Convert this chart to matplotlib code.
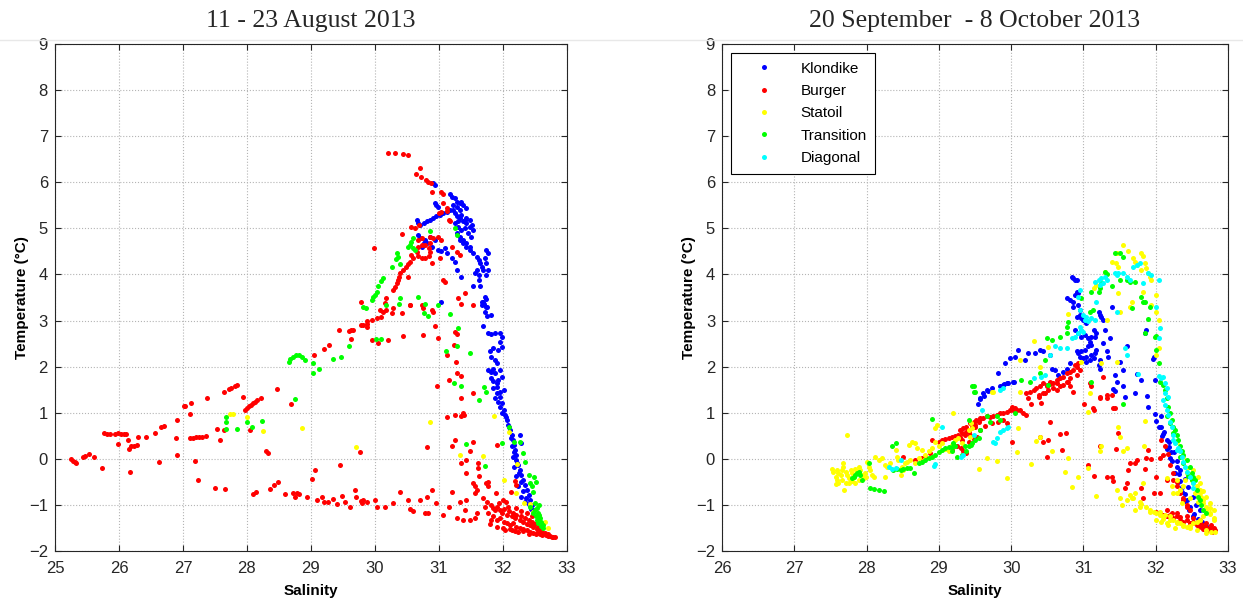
import numpy as np
import matplotlib
matplotlib.use('Agg')
import matplotlib.pyplot as plt
from matplotlib.lines import Line2D

# salinity / temperature pairs
titles = ['11 - 23 August 2013', '20 September  - 8 October 2013']
stations = ['Klondike', 'Burger', 'Statoil', 'Transition', 'Diagonal']

aug_klondike = [
    (30.91, 5.98), (30.94, 5.94), (31.17, 5.75), (31.20, 5.69), (31.25, 5.65), (31.28, 5.58), (31.33, 5.54),
    (31.35, 5.58), (31.38, 5.51), (31.42, 5.44), (31.33, 5.40), (31.28, 5.47), (31.22, 5.51), (30.94, 5.54),
    (30.96, 5.51), (30.99, 5.47), (30.65, 5.18), (30.68, 5.11), (30.70, 5.08), (30.76, 5.11), (30.81, 5.15),
    (30.86, 5.18), (30.91, 5.22), (30.96, 5.26), (31.02, 5.29), (31.07, 5.33), (31.12, 5.36), (31.17, 5.40),
    (31.22, 5.40), (31.25, 5.33), (31.28, 5.26), (31.33, 5.22), (31.38, 5.15), (31.43, 5.11), (31.48, 5.04),
    (31.54, 4.97), (31.25, 5.11), (31.30, 5.04), (31.35, 4.97), (31.40, 5.18), (31.45, 4.89), (31.50, 4.82),
    (31.28, 4.89), (31.33, 4.82), (31.38, 4.75), (31.43, 4.68), (31.48, 4.60), (31.35, 5.29), (31.42, 5.22),
    (31.48, 5.18), (31.52, 5.08), (31.30, 5.15), (31.40, 5.00), (31.33, 4.75), (31.38, 4.68), (31.43, 4.60),
    (31.48, 4.53), (31.54, 4.46), (31.59, 4.39), (31.62, 4.32), (31.64, 4.24), (31.67, 4.17), (31.69, 4.10),
    (31.59, 4.10), (31.56, 4.03), (31.62, 3.99), (31.74, 4.53), (31.77, 4.46), (31.72, 4.35), (31.74, 4.24),
    (31.77, 4.10), (31.74, 3.99), (30.81, 4.68), (30.89, 4.60), (30.94, 4.75), (30.99, 4.53), (31.04, 4.50),
    (31.09, 4.57), (31.12, 4.46), (31.20, 4.35), (31.25, 4.28), (31.28, 4.10), (31.35, 3.95), (31.54, 3.75),
    (31.62, 3.88), (31.64, 3.74), (31.72, 3.52), (31.74, 3.46), (31.69, 3.41), (31.67, 3.34), (31.75, 3.30),
    (31.04, 3.41), (30.68, 4.86), (30.70, 4.79), (30.76, 4.68), (30.73, 4.60), (30.78, 4.75), (30.86, 4.82),
    (31.67, 3.41), (31.70, 3.36), (31.74, 3.30), (31.72, 3.19), (31.75, 3.09), (31.82, 3.12), (31.69, 2.88),
    (31.77, 2.72), (31.82, 2.71), (31.88, 2.72), (31.95, 2.72), (31.98, 2.65), (31.95, 2.54), (31.98, 2.43),
    (31.93, 2.36), (31.85, 2.40), (31.80, 2.33), (31.82, 2.22), (31.88, 2.15), (31.90, 2.07), (31.77, 1.93),
    (31.82, 1.89), (31.88, 1.86), (31.95, 1.93), (31.98, 1.78), (31.82, 1.75), (31.85, 1.68), (31.90, 1.64),
    (31.85, 1.53), (32.01, 1.50), (31.90, 1.42), (31.95, 1.35), (31.88, 1.31), (31.93, 1.24), (31.98, 1.21),
    (31.95, 1.13), (32.01, 1.06), (32.03, 0.95), (32.06, 0.84), (32.08, 0.74), (32.11, 0.63), (32.14, 0.52),
    (32.16, 0.41), (32.17, 0.30), (32.19, 0.19), (32.20, 0.08), (32.21, -0.02), (32.24, -0.13), (32.27, -0.24),
    (32.29, -0.35), (32.32, -0.46), (32.34, -0.57), (32.37, -0.67), (32.40, -0.78), (32.42, -0.89),
    (32.45, -1.00), (32.47, -1.11), (32.26, 0.52), (32.29, 0.34), (32.14, 0.27), (32.16, 0.05), (32.17, -0.17),
    (32.21, -0.38), (32.24, -0.60), (32.29, -0.82), (32.34, -0.93), (31.98, 1.00), (32.05, 0.90), (32.10, 0.70),
    (32.12, 0.45), (32.18, 0.15), (32.22, -0.10), (32.25, -0.30), (32.28, -0.50), (32.31, -0.70),
    (32.36, -0.85), (32.40, -0.98), (32.44, -1.08), (31.90, 1.55), (31.96, 1.45), (31.85, 1.95), (31.92, 1.70),
]

aug_burger = [
    (25.25, 0.00), (25.28, -0.04), (25.31, -0.07), (25.33, -0.09), (25.44, 0.04), (25.47, 0.07), (25.53, 0.11),
    (25.61, 0.04), (25.74, -0.20), (25.76, 0.56), (25.81, 0.54), (25.86, 0.54), (25.94, 0.53), (25.99, 0.56),
    (26.03, 0.54), (26.08, 0.54), (26.11, 0.53), (25.98, 0.33), (26.14, 0.40), (26.16, 0.22), (26.19, 0.27),
    (26.24, 0.28), (26.28, 0.31), (26.30, 0.47), (26.18, -0.28), (26.43, 0.47), (26.56, 0.57), (26.66, 0.69),
    (26.70, 0.71), (26.63, -0.06), (26.91, 0.85), (26.89, 0.45), (26.90, 0.09), (27.01, 1.14), (27.04, 1.15),
    (27.11, 0.98), (27.13, 1.21), (27.11, 0.46), (27.15, 0.46), (27.20, 0.47), (27.25, 0.48), (27.30, 0.48),
    (27.36, 0.49), (27.19, -0.05), (27.24, -0.45), (27.38, 1.32), (27.50, -0.63), (27.66, -0.65), (27.53, 0.65),
    (27.58, 0.40), (27.64, 1.45), (27.72, 1.52), (27.75, 1.54), (27.81, 1.57), (27.84, 1.60), (27.64, 0.63),
    (27.94, 1.34), (27.97, 1.07), (28.00, 1.11), (28.03, 1.14), (28.06, 1.17), (28.09, 1.21), (28.13, 1.23),
    (28.05, 0.63), (28.16, 1.28), (28.22, 1.33), (28.09, -0.76), (28.14, -0.71), (28.30, 0.18), (28.33, 0.13),
    (28.36, -0.65), (28.43, -0.56), (28.49, -0.51), (28.47, 1.52), (28.69, 1.20), (28.59, -0.76), (28.72, -0.75),
    (28.75, -0.83), (28.78, -0.75), (28.82, -0.76), (28.94, -0.83), (29.01, -0.43), (29.06, -0.24), (29.05, 2.26),
    (29.09, -0.89), (29.18, -0.83), (29.20, -0.94), (29.26, -0.94), (29.34, -0.87), (29.41, -0.99), (29.49, -0.80),
    (29.53, -0.94), (29.61, -1.05), (29.69, -0.67), (29.71, -0.83), (29.78, -0.91), (29.80, -0.96), (29.87, -0.94),
    (29.45, -0.13), (29.77, 0.14), (29.20, 2.39), (29.28, 2.48), (29.44, 2.79), (29.59, 2.78), (29.63, 2.79),
    (29.66, 2.80), (29.63, 2.59), (29.78, 2.90), (29.87, 2.93), (29.87, 2.86),
    (29.79, 3.41), (29.82, 2.90), (30.08, 3.23), (30.13, 3.19), (30.18, 3.23), (30.26, 3.16), (30.29, 3.27),
    (29.87, 2.98), (29.95, 3.01), (30.03, 3.05), (30.10, 3.08), (29.96, 2.58), (30.05, 2.51), (30.21, 2.58),
    (30.44, 2.67), (30.42, 3.17), (30.55, 3.34), (30.75, 3.27), (30.89, 3.23), (30.91, 3.19), (30.75, 2.69),
    (30.94, 2.88), (30.98, 2.62), (31.25, 2.76), (31.28, 2.71), (31.24, 2.46), (31.13, 2.25), (31.27, 2.11),
    (31.15, 1.70), (30.97, 1.58), (31.28, 1.86), (31.34, 1.80), (31.54, 1.42), (31.35, 1.31), (31.37, 0.99),
    (31.39, 0.95), (31.35, 0.92), (31.25, 0.95), (31.12, 0.90), (31.25, 0.41), (31.21, 0.27), (31.54, 0.37),
    (30.82, 0.25), (31.35, -0.08), (31.43, -0.02), (31.49, 0.16), (31.61, -0.09), (31.61, -0.20), (31.43, -0.31),
    (31.63, -0.37), (31.77, -0.50), (31.91, 0.29), (31.54, -0.53), (31.56, -0.60), (31.60, -0.68), (31.56, -0.75),
    (31.74, -0.53), (31.77, -0.60), (31.89, -0.75), (32.00, -0.89), (32.05, -0.93), (32.19, -0.49), (32.21, -0.57),
    (32.13, -0.71), (29.82, -0.89), (30.00, -0.89), (30.03, -1.04), (30.16, -1.04), (30.29, -0.96), (30.39, -0.71),
    (30.52, -0.89), (30.55, -1.09), (30.60, -1.14), (30.70, -0.89), (30.78, -1.18), (30.83, -1.18), (30.81, -0.82),
    (30.89, -0.67), (30.96, -0.96), (31.07, -1.22), (31.15, -1.05), (31.20, -0.73), (31.28, -1.29), (31.33, -0.93),
    (31.38, -1.33), (31.41, -1.12), (31.43, -0.89), (31.48, -1.33), (31.56, -1.29), (31.59, -1.18),
    (30.21, 6.64), (30.31, 6.63), (30.44, 6.61), (30.52, 6.59), (30.70, 6.30), (30.64, 6.19), (30.72, 6.12),
    (30.80, 6.05), (30.83, 6.01), (30.87, 5.98), (30.89, 5.80), (31.04, 5.80), (31.07, 5.75), (31.07, 5.54),
    (31.00, 5.33), (31.04, 5.36), (31.12, 5.45), (31.13, 5.38), (31.15, 5.18), (31.17, 5.15), (30.57, 5.02),
    (30.63, 5.00), (30.69, 5.07), (30.43, 4.87), (29.98, 4.57), (30.68, 4.75), (30.73, 4.79), (30.86, 4.82),
    (30.91, 4.79), (30.99, 4.82), (30.66, 4.49), (30.68, 4.59), (30.73, 4.63), (30.79, 4.63), (30.84, 4.58),
    (30.86, 4.49), (30.84, 4.40), (30.79, 4.35), (30.73, 4.35), (30.68, 4.40), (30.57, 4.42), (30.60, 4.35),
    (30.55, 4.28), (30.52, 4.23), (30.49, 4.17), (30.44, 4.10), (30.39, 4.03), (30.38, 3.95), (30.36, 3.88),
    (30.34, 3.81), (30.31, 3.73), (30.29, 3.66), (30.86, 4.68), (31.04, 4.75), (31.20, 4.60), (31.28, 4.49),
    (31.33, 4.42), (31.02, 4.35), (31.07, 3.88), (31.10, 3.84), (30.89, 4.24), (30.52, 3.95), (30.18, 3.48),
    (30.16, 3.38), (30.55, 3.34), (30.73, 3.34), (31.41, 3.59), (31.30, 3.48), (31.35, 3.36), (31.54, 3.34),
    (31.69, -0.86), (31.75, -0.93), (31.81, -1.00), (31.84, -1.07), (31.88, -1.11), (31.91, -1.05), (31.95, -1.12),
    (31.98, -1.18), (32.02, -1.09), (32.06, -1.22), (32.10, -1.14), (32.14, -1.25), (32.16, -1.18), (32.19, -1.29),
    (32.21, -1.22), (32.26, -1.33), (32.29, -1.25), (32.32, -1.36), (32.34, -1.29), (32.37, -1.41), (32.40, -1.33),
    (32.42, -1.43), (32.45, -1.38), (32.47, -1.47), (32.50, -1.41), (32.53, -1.53), (32.55, -1.47), (32.58, -1.58),
    (32.60, -1.54), (32.63, -1.61), (32.66, -1.60), (32.68, -1.65), (32.71, -1.64), (32.73, -1.67), (32.76, -1.69),
    (32.79, -1.69), (32.82, -1.70), (31.85, -1.25), (31.90, -1.33), (31.95, -1.29), (32.01, -1.36), (32.06, -1.40),
    (32.11, -1.43), (32.16, -1.40), (32.21, -1.47), (32.27, -1.51), (32.32, -1.53), (32.37, -1.54), (32.42, -1.58),
    (32.47, -1.60), (32.53, -1.61), (32.58, -1.64), (31.77, -1.18), (31.82, -1.33), (31.72, -1.04), (31.94, -0.96),
    (32.08, -1.04), (32.21, -1.07), (32.29, -1.14), (32.37, -1.18), (32.45, -1.25), (32.03, -1.54), (32.14, -1.54),
    (32.24, -1.58), (31.80, -1.42), (31.91, -1.48), (32.00, -1.49), (32.11, -1.53), (32.19, -1.56), (32.31, -1.57),
    (32.40, -1.62), (32.51, -1.64), (32.61, -1.66), (32.70, -1.68),
]

aug_statoil = [
    (27.74, 0.98), (27.78, 0.98), (28.00, 0.91), (28.25, 0.60), (28.86, 0.67), (29.71, 0.25), (30.86, 0.80),
    (31.33, 0.09), (31.69, 0.07), (31.86, 0.93), (32.01, -0.45), (32.09, 0.58), (32.21, -0.75), (32.33, -0.96),
    (32.22, -0.11), (32.47, -1.16), (32.56, -1.23), (32.66, -1.38), (32.70, -1.49), (32.42, -0.97),
]

aug_transition = [
    (28.66, 2.10), (28.68, 2.17), (28.72, 2.22), (28.76, 2.26), (28.81, 2.25), (28.86, 2.22), (28.90, 2.15),
    (29.03, 1.86), (29.13, 1.94), (29.04, 2.09), (28.75, 1.29), (29.59, 2.44), (29.86, 3.28), (29.34, 2.17),
    (29.47, 2.21), (27.68, 0.91), (27.68, 0.81), (27.68, 0.65), (27.84, 0.64), (28.00, 0.80), (28.08, 0.69),
    (28.24, 0.82), (30.60, 4.79), (30.57, 4.71), (30.55, 4.64), (30.52, 4.60), (30.60, 4.57), (30.62, 4.53),
    (30.34, 4.46), (30.36, 4.39), (30.33, 4.33), (30.39, 4.23), (30.26, 4.17), (30.13, 3.92), (30.10, 3.85),
    (30.05, 3.74), (30.03, 3.63), (30.00, 3.56), (29.97, 3.52), (29.95, 3.45), (30.18, 3.34), (30.86, 4.95),
    (31.25, 5.00), (31.28, 4.86), (30.68, 3.52), (30.39, 3.48), (30.78, 3.35), (30.99, 3.34), (29.82, 3.30),
    (30.37, 3.37), (30.76, 3.16), (30.83, 3.10), (31.17, 3.14), (31.30, 2.83), (31.11, 2.33), (31.29, 2.45),
    (31.48, 2.29), (31.24, 1.64), (31.34, 1.58), (31.71, 1.55), (31.74, 1.44), (31.63, 1.28), (31.43, 0.32),
    (31.72, -0.15), (31.99, 0.34), (32.10, 0.68), (32.17, 0.37), (32.26, 0.37), (30.01, 2.59), (30.09, 2.61),
    (32.32, 0.12), (32.34, -0.06), (32.40, -0.35), (32.42, -0.53), (32.45, -0.60), (32.47, -0.71), (32.50, -0.96),
    (32.53, -1.07), (32.55, -1.18), (32.58, -1.29), (32.60, -1.36), (32.47, -1.18), (32.50, -1.11), (32.42, -1.04),
    (32.53, -1.33), (32.55, -1.40), (32.57, -1.22), (32.62, -1.43), (32.52, -1.25), (32.48, -0.40), (32.52, -0.50),
    (32.56, -1.00), (32.60, -1.45), (32.63, -1.50),
]

sep_klondike = [
    (30.84, 3.95), (30.86, 3.92), (30.88, 3.89), (30.91, 3.88), (30.77, 3.48), (30.81, 3.45), (30.86, 3.41),
    (30.91, 3.63), (30.93, 3.59), (30.88, 3.56), (30.86, 3.30), (30.93, 3.34), (30.91, 3.08), (30.95, 3.12),
    (30.97, 3.05), (31.00, 3.01), (31.02, 2.98), (31.04, 2.94), (30.95, 3.23), (30.88, 2.80), (30.93, 2.72),
    (30.97, 2.65), (31.02, 2.69), (31.07, 2.62), (31.11, 2.65), (31.16, 2.65), (31.18, 2.72), (31.14, 2.80),
    (31.09, 2.54), (31.11, 2.47), (31.07, 2.44), (31.02, 2.36), (30.97, 2.33), (30.93, 2.29), (30.95, 2.22),
    (31.00, 2.18), (31.04, 2.22), (31.11, 2.25), (31.16, 2.29), (31.18, 2.36), (31.14, 2.18), (31.09, 2.15),
    (31.04, 2.11), (30.91, 2.33), (31.21, 3.19), (31.23, 3.12), (31.25, 3.08), (31.27, 3.01), (31.30, 2.80),
    (31.37, 2.62), (31.39, 3.30), (31.27, 2.51), (31.32, 2.33), (31.34, 2.22), (31.23, 2.15), (31.21, 2.04),
    (31.23, 1.96), (30.81, 2.07), (30.77, 1.96), (30.72, 1.89), (30.65, 1.82), (30.61, 1.93), (30.56, 1.96),
    (30.54, 2.25), (30.44, 2.33), (30.40, 2.36), (30.33, 2.29), (30.24, 2.29), (30.19, 2.15), (30.10, 2.36),
    (30.05, 2.22), (29.98, 2.18), (29.91, 2.07), (29.82, 1.86), (29.94, 1.65), (29.89, 1.60), (30.03, 1.67),
    (29.66, 1.49), (29.61, 1.42), (29.57, 1.31), (31.60, 2.44), (31.51, 2.11), (31.44, 1.82), (31.46, 1.67),
    (31.55, 1.57), (31.71, 1.42), (31.87, 2.80), (31.85, 2.72), (31.97, 2.22), (31.55, 1.93), (31.41, 1.52),
    (31.44, 1.48), (31.57, 1.34), (31.74, 1.84), (31.79, 1.70), (31.88, 1.37), (31.96, 2.17), (31.99, 1.70),
    (31.90, 1.12), (31.99, 0.98), (32.01, 0.83), (32.07, 0.69), (32.10, 0.54), (32.15, 0.40), (32.18, 0.25),
    (32.21, 0.14), (32.23, -0.04), (32.29, -0.18), (32.32, -0.33), (32.34, -0.47), (32.37, -0.61), (32.40, -0.76),
    (32.43, -0.90), (32.48, -1.05), (32.53, -1.19), (32.59, -1.30), (32.64, -1.37), (32.70, -1.45), (32.07, 0.94),
    (32.12, 0.58), (32.18, 0.36), (32.26, 0.14), (32.29, -0.04), (32.34, -0.25), (32.40, -0.43), (32.45, -0.61),
    (32.51, -0.83), (32.56, -1.01), (32.62, -1.12), (29.54, 1.19), (29.57, 1.30), (29.62, 1.37), (29.68, 1.48),
    (29.73, 1.54), (29.84, 1.59), (29.90, 1.63), (29.95, 1.64), (30.04, 1.66), (32.04, 0.70), (32.09, 0.50),
    (32.16, 0.22), (32.20, 0.02), (32.27, -0.30), (32.31, -0.50), (32.36, -0.72), (32.41, -0.92), (32.46, -1.10),
    (32.51, -1.24),
]

sep_burger = [
    (30.31, 1.49), (30.35, 1.53), (30.40, 1.57), (30.44, 1.64), (30.49, 1.60), (30.54, 1.67), (30.58, 1.64),
    (30.63, 1.71), (30.68, 1.75), (30.72, 1.78), (30.77, 1.86), (30.81, 1.89), (30.86, 1.93), (30.91, 2.00),
    (30.93, 2.07), (30.88, 2.04), (30.95, 1.93), (30.68, 1.57), (30.72, 1.60), (30.58, 1.53), (30.51, 1.49),
    (30.44, 1.42), (30.38, 1.39), (30.63, 1.49), (30.79, 1.67), (30.91, 1.82), (30.81, 1.75), (31.09, 1.64),
    (31.11, 1.57), (31.27, 1.78), (31.32, 1.39), (31.23, 1.35), (31.39, 1.39), (29.29, 0.63), (29.34, 0.66),
    (29.38, 0.70), (29.43, 0.77), (29.48, 0.81), (29.52, 0.84), (29.57, 0.88), (29.61, 0.88), (29.66, 0.92),
    (29.71, 0.90), (29.75, 0.93), (29.80, 0.95), (29.85, 0.99), (29.89, 1.00), (29.94, 1.02), (29.98, 1.05),
    (30.03, 1.06), (30.08, 1.07), (30.12, 1.05), (30.17, 0.99), (30.21, 0.95), (30.01, 1.13), (30.05, 1.10),
    (29.29, 0.48), (29.36, 0.52), (29.41, 0.59), (29.50, 0.70), (29.57, 0.63), (29.64, 0.71), (29.73, 0.77),
    (29.82, 0.81), (29.89, 0.84), (29.94, 0.77), (30.21, 1.42), (30.26, 1.46), (30.49, 1.57), (30.54, 1.62),
    (30.63, 1.65), (30.77, 1.67), (30.81, 1.57), (30.86, 1.46), (30.47, 1.42), (30.38, 1.35), (30.24, 1.31),
    (30.01, 0.37), (30.40, 0.48), (30.44, 0.37), (30.51, 0.41), (30.54, 0.81), (30.68, 0.53), (30.76, 0.55),
    (30.70, 0.19), (30.49, 0.05), (30.28, 1.20), (30.42, 1.22), (31.01, 1.19), (31.13, 1.10), (31.14, 1.06),
    (31.23, 1.31), (31.32, 1.33), (31.41, 1.10), (31.44, 1.10), (31.23, 0.28), (31.45, 0.21), (31.48, 0.57),
    (31.07, -0.13), (31.14, -0.37), (31.32, -0.40), (31.39, -0.39), (31.41, -0.49), (31.57, -0.64), (31.60, -0.53),
    (31.62, -0.24), (31.64, -0.10), (31.71, -0.10), (31.74, -0.02), (31.80, -0.64), (31.85, -0.23), (31.87, 0.01),
    (31.94, -0.01), (31.90, 0.19), (31.97, -0.75), (32.06, -0.75), (32.01, -0.39), (32.15, -0.46), (32.06, 0.01),
    (32.10, 0.08), (31.83, -0.86), (32.01, -1.15), (32.06, -1.18), (32.10, -1.22), (32.15, -1.25), (32.20, -1.22),
    (32.24, -1.29), (32.29, -1.25), (32.34, -1.33), (32.38, -1.36), (32.43, -1.33), (32.47, -1.40), (32.52, -1.36),
    (32.57, -1.43), (32.61, -1.40), (32.66, -1.47), (32.70, -1.47), (32.75, -1.51), (32.80, -1.51), (32.82, -1.54),
    (32.15, -1.11), (32.29, -1.18), (32.43, -1.25), (32.52, -1.29), (32.61, -1.33), (32.70, -1.40), (32.77, -1.43),
    (32.24, -0.46), (32.29, -0.60), (32.34, -0.75), (32.38, -0.89), (32.43, -1.04), (32.47, -1.11), (32.08, 0.41),
    (32.13, 0.27), (32.17, 0.10), (32.20, -0.13), (32.24, -0.30), (32.29, -0.50), (32.34, -0.70), (32.38, -0.85),
    (32.43, -1.00), (28.50, 0.05), (28.67, -0.02), (28.77, 0.01), (28.81, 0.05), (28.88, 0.12), (28.90, 0.41),
    (29.00, 0.37), (29.04, 0.41), (29.09, 0.42), (29.14, 0.45), (29.18, 0.47), (29.23, 0.50), (29.27, 0.52),
    (29.32, 0.55), (29.37, 0.59), (29.41, 0.63), (29.46, 0.70), (29.50, 0.74), (29.55, 0.81), (29.57, 0.86),
    (29.30, 0.23), (29.34, 0.16), (29.37, 0.12), (29.25, 0.27), (29.18, 0.20), (29.41, 0.37), (29.48, 0.42),
    (29.53, 0.48), (29.32, 0.41), (29.43, 0.52), (32.52, -1.40), (32.60, -1.47), (32.66, -1.52), (32.73, -1.55),
    (32.78, -1.58), (32.64, -1.43), (32.22, -1.18), (32.33, -1.27),
]

sep_statoil = [
    (27.73, 0.52), (27.52, -0.21), (27.54, -0.28), (27.59, -0.24), (27.61, -0.31), (27.57, -0.39), (27.59, -0.46),
    (27.64, -0.35), (27.66, -0.24), (27.68, -0.17), (27.71, -0.28), (27.73, -0.35), (27.75, -0.42), (27.78, -0.24),
    (27.80, -0.31), (27.82, -0.39), (27.84, -0.21), (27.87, -0.28), (27.89, -0.17), (27.91, -0.24), (27.94, -0.35),
    (27.96, -0.42), (27.98, -0.31), (28.01, -0.06), (28.03, -0.17), (28.05, -0.24), (28.07, -0.35), (28.10, -0.39),
    (27.68, -0.10), (27.66, -0.46), (27.71, -0.53), (27.75, -0.53), (27.69, -0.67), (27.61, -0.52), (27.58, -0.54),
    (27.80, -0.49), (27.84, -0.53), (27.89, -0.46), (27.99, -0.39), (28.12, 0.05), (28.17, -0.02), (28.21, 0.01),
    (28.26, -0.13), (28.28, -0.17), (28.33, -0.10), (28.40, 0.19), (28.42, 0.05), (28.44, -0.02), (28.49, -0.17),
    (28.51, -0.24), (28.56, -0.06), (28.58, 0.30), (28.60, -0.02), (28.63, 0.37), (28.67, 0.34), (28.70, 0.23),
    (28.72, 0.01), (28.77, 0.19), (28.79, -0.02), (28.81, 0.09), (28.86, 0.16), (28.90, 0.23), (28.95, 0.66),
    (28.97, 0.73), (28.95, 0.37), (29.00, 0.27), (29.04, 0.34), (29.09, 0.21), (29.14, 0.16), (29.18, 0.30),
    (29.20, 0.99), (29.23, 0.41), (29.27, 0.45), (29.32, 0.34), (29.41, 0.63), (29.43, 0.48), (29.46, 0.66),
    (28.67, -0.10), (28.47, -0.35), (28.53, -0.10), (28.26, -0.39), (29.45, 0.77), (29.55, -0.21), (29.66, 0.01),
    (29.73, 1.44), (29.81, -0.04), (29.94, -0.41), (30.08, 0.14), (30.10, 0.66), (30.12, 1.46), (30.28, -0.11),
    (30.35, 0.39), (30.40, 0.48), (30.56, 0.18), (30.74, -0.28), (30.79, 0.01), (30.84, -0.62), (30.93, -0.39),
    (31.09, 1.42), (31.07, 1.02), (31.18, -0.80), (31.23, 0.16), (31.25, 0.27), (31.48, 0.68), (31.51, 0.47),
    (31.55, 0.16), (31.60, 0.23), (31.07, -0.19), (31.46, -0.67), (31.51, -0.86), (31.60, -0.89), (31.64, -0.78),
    (31.69, -0.86), (31.71, -0.75), (31.78, -0.93), (31.82, -0.53), (31.84, 0.27), (31.85, 0.83), (31.87, -1.04),
    (31.92, -1.11), (31.97, -1.15), (32.01, -1.18), (32.06, -1.22), (32.10, -1.25), (32.20, -1.25), (32.24, -1.33),
    (32.29, -1.36), (32.34, -1.40), (32.38, -1.43), (32.43, -1.47), (32.47, -1.46), (32.52, -1.40), (32.57, -1.36),
    (32.61, -1.33), (32.66, -1.25), (32.70, -1.11), (32.75, -1.18), (32.80, -1.33), (32.82, -1.58), (32.77, -1.58),
    (32.70, -1.54), (32.06, -1.15), (32.08, -1.36), (32.17, -1.43), (32.27, -1.51), (32.36, -0.96), (32.47, -0.86),
    (32.54, -0.75), (32.59, -0.93), (32.66, -0.96), (32.40, -0.46), (32.38, -0.60), (32.24, -0.75), (32.29, -0.46),
    (32.34, -0.67), (32.52, -0.53), (32.61, -0.67), (32.70, -0.82), (32.01, -1.33), (32.10, -1.31), (32.15, -1.40),
    (31.55, 4.64), (31.46, 4.47), (31.62, 4.50), (31.69, 4.35), (31.80, 4.47), (31.83, 4.40), (31.71, 4.28),
    (31.74, 4.21), (31.85, 4.24), (31.87, 4.13), (31.80, 4.10), (31.90, 4.03), (31.92, 3.95), (31.94, 3.88),
    (31.48, 4.17), (31.39, 4.28), (31.45, 4.24), (31.30, 4.06), (31.23, 3.88), (31.14, 3.70), (31.18, 3.77),
    (32.01, 3.56), (31.94, 3.34), (32.01, 3.19), (32.04, 3.01), (32.01, 2.25), (32.04, 2.40), (31.48, 3.59),
    (31.83, 3.63), (31.64, 3.30), (31.67, 3.41), (31.51, 3.19), (31.32, 3.01), (30.78, 3.14), (30.31, 2.56),
    (30.51, 2.42), (30.12, 2.15), (29.75, 1.46), (30.40, 2.00), (30.97, 2.11), (31.25, 2.07), (31.46, 2.11),
    (32.29, 0.37), (32.38, 0.05), (32.43, -0.20), (32.52, -0.45), (32.57, -0.60), (32.61, -0.75), (32.66, -0.90),
    (32.70, -1.05), (32.75, -1.20), (32.59, -0.40), (32.66, -0.70), (32.75, -0.95), (32.80, -1.10),
    (32.13, -1.22), (32.20, -1.33), (32.29, -1.40), (32.38, -1.45), (32.47, -1.50), (32.57, -1.54), (32.70, -1.60),
    (31.92, -1.15), (31.78, -1.04), (31.71, -1.11), (31.53, -1.00), (31.67, -0.85), (31.80, -0.97), (32.57, -0.67),
    (32.63, -0.82), (32.75, -1.07), (32.80, -1.29), (32.52, -0.24), (32.50, -0.46), (32.43, -0.31), (32.61, -0.53),
    (32.15, -0.42), (32.22, -0.60), (32.29, -0.75),
]

sep_transition = [
    (27.80, -0.42), (27.82, -0.39), (27.84, -0.35), (27.87, -0.31), (27.89, -0.28), (27.91, -0.35), (27.94, -0.46),
    (28.03, -0.10), (28.05, -0.64), (28.10, -0.66), (28.17, -0.67), (28.24, -0.69), (28.35, 0.27), (28.40, 0.35),
    (28.37, -0.24), (28.42, -0.23), (28.47, -0.24), (28.51, -0.21), (28.56, -0.19), (28.60, -0.19), (28.65, -0.31),
    (28.72, -0.10), (28.77, -0.06), (28.81, -0.02), (28.86, 0.01), (28.90, 0.05), (28.95, 0.08), (29.00, 0.14),
    (29.04, 0.19), (29.09, 0.23), (29.14, 0.25), (29.18, 0.25), (29.23, 0.28), (29.25, 0.05), (29.32, 0.08),
    (29.37, 0.16), (29.41, 0.27), (29.46, 1.57), (29.49, 1.44), (29.41, 0.84), (29.46, 0.35), (29.50, 0.41),
    (29.55, 0.45), (28.90, 0.86), (29.18, 0.16), (29.20, 0.35), (31.44, 4.47), (31.51, 4.47), (31.55, 4.39),
    (31.30, 4.06), (31.32, 4.01), (31.39, 3.74), (31.21, 3.63), (31.25, 3.81), (31.23, 3.70), (31.51, 3.88),
    (31.60, 3.88), (31.64, 3.84), (31.71, 3.84), (31.80, 3.52), (31.83, 3.41), (31.85, 3.41), (31.92, 3.30),
    (31.67, 3.27), (31.90, 3.03), (31.85, 2.72), (32.01, 2.67), (31.99, 2.65), (32.01, 2.36), (32.04, 2.07),
    (30.97, 3.48), (31.11, 3.63), (31.09, 3.19), (31.13, 3.22), (30.78, 2.96), (30.77, 2.72), (30.68, 2.65),
    (30.56, 2.58), (30.49, 2.62), (30.47, 2.15), (30.40, 1.86), (30.51, 1.60), (30.14, 1.71), (30.26, 1.67),
    (29.48, 1.57), (29.50, 1.46), (31.11, 1.67), (30.77, 2.87), (32.06, 1.67), (32.10, 1.60), (32.13, 1.49),
    (32.15, 1.31), (32.17, 1.13), (32.20, 0.99), (32.22, 0.84), (32.24, 0.70), (32.27, 0.63), (32.29, 0.52),
    (32.31, 0.41), (32.34, 0.27), (32.36, 0.16), (32.38, 0.08), (32.43, -0.02), (32.47, -0.17), (32.50, -0.31),
    (32.52, -0.39), (32.54, -0.46), (32.57, -0.67), (32.59, -0.82), (32.61, -0.89), (32.63, -1.00), (32.66, -1.11),
    (32.70, -1.18), (32.15, 0.92), (32.20, 0.77), (32.24, 0.55), (32.34, 0.05), (32.38, -0.10), (32.45, -0.37),
    (32.50, -0.46), (31.55, 1.20), (29.66, 0.92), (29.71, 0.81), (29.57, 0.63), (29.36, 0.27), (29.45, 0.30),
    (30.05, 1.00), (29.80, 0.92), (29.85, 0.84),
]

sep_diagonal = [
    (31.16, 3.84), (31.21, 3.88), (31.25, 3.92), (31.30, 3.95), (31.32, 3.88), (31.27, 3.81), (31.23, 3.77),
    (31.18, 3.41), (30.95, 3.66), (30.93, 3.52), (30.95, 3.23), (31.00, 3.12), (31.04, 3.08), (31.02, 3.01),
    (31.07, 2.98), (31.11, 3.05), (31.16, 3.01), (30.95, 2.87), (30.97, 2.80), (31.00, 2.76), (30.93, 2.72),
    (30.88, 2.65), (30.84, 2.62), (30.61, 2.44), (30.68, 2.40), (30.77, 2.40), (30.54, 2.25), (30.47, 1.82),
    (30.42, 1.78), (30.31, 1.75), (29.89, 1.53), (29.85, 1.49), (31.44, 4.03), (31.46, 3.99), (31.48, 4.03),
    (31.55, 4.03), (31.60, 3.95), (31.64, 3.88), (31.69, 4.17), (31.74, 4.21), (31.78, 4.24), (31.82, 3.82),
    (31.90, 4.03), (31.94, 3.99), (32.04, 3.88), (31.46, 3.19), (32.01, 3.30), (32.06, 2.83), (32.05, 2.62),
    (31.60, 2.25), (31.57, 2.40), (31.76, 1.84), (32.05, 1.80), (32.08, 1.75), (32.10, 1.78), (32.13, 1.64),
    (32.15, 1.53), (32.13, 1.42), (32.17, 1.35), (32.10, 1.28), (32.13, 1.17), (32.15, 1.06), (32.17, 0.95),
    (32.20, 0.81), (32.22, 0.70), (32.24, 0.52), (32.27, 0.34), (32.29, 0.19), (32.34, 0.16), (32.36, 0.05),
    (32.38, -0.06), (32.40, -0.17), (32.43, -0.28), (32.47, -0.39), (32.52, -0.53), (32.52, -0.64), (32.24, 0.41),
    (32.31, 0.23), (29.75, 0.37), (29.78, 0.34), (29.80, 0.45), (29.85, 0.59), (29.89, 0.63), (29.94, 0.66),
    (29.96, 0.70), (29.31, 0.05), (29.34, 0.08), (29.48, 0.52), (28.31, -0.17), (28.35, -0.21), (28.40, -0.19),
    (28.47, -0.02), (28.93, -0.15), (28.95, -0.11), (29.04, 0.70), (29.60, 1.06),
]

colors = ['#0000ff', '#ff0000', '#ffff00', '#00ff00', '#00ffff']

aug_sets = [aug_klondike, aug_burger, aug_statoil, aug_transition]
sep_sets = [sep_klondike, sep_burger, sep_statoil, sep_transition, sep_diagonal]

plt.rcParams['font.family'] = ['Liberation Sans', 'DejaVu Sans']

fig = plt.figure(figsize=(12.43, 5.99), dpi=100)
ax1 = fig.add_axes([0.0442, 0.0801, 0.4119, 0.8464])
ax2 = fig.add_axes([0.5809, 0.0801, 0.4070, 0.8464])

for data, col, name in zip(aug_sets, colors, stations):
    s, t = zip(*data)
    ax1.plot(s, t, 'o', ms=3.6, mec='none', color=col, label=name)

for data, col, name in zip(sep_sets, colors, stations):
    s, t = zip(*data)
    ax2.plot(s, t, 'o', ms=3.6, mec='none', color=col, label=name)

for ax, xmin, title in [(ax1, 25, titles[0]), (ax2, 26, titles[1])]:
    ax.set_xlim(xmin, 33)
    ax.set_ylim(-2, 9)
    ax.set_xticks(range(xmin, 34))
    ax.set_yticks(range(-2, 10))
    ax.grid(True, ls=':', color='#b4b4b4', lw=0.8)
    ax.set_axisbelow(True)
    ax.tick_params(direction='in', top=True, right=True, length=4, labelsize=12, colors='#262626')
    ax.tick_params(axis='x', pad=7)
    ax.tick_params(axis='y', pad=5)
    for sp in ax.spines.values():
        sp.set_color('#262626')
        sp.set_linewidth(0.8)
    ax.set_xlabel('Salinity', fontsize=11, fontweight='bold', labelpad=6)
    ax.set_ylabel('Temperature (\u00b0C)', fontsize=11, fontweight='bold', labelpad=0)
    ax.set_title(title, fontsize=18.5, family='Liberation Serif', color='#262626', pad=12)

leg = ax2.legend(loc='upper left', fontsize=11, frameon=True, fancybox=False, edgecolor='black',
                 framealpha=1, numpoints=1, handlelength=3.2, handletextpad=0.8, labelspacing=0.55,
                 borderpad=0.55, borderaxespad=0.6)
leg.get_frame().set_linewidth(0.8)

fig.add_artist(Line2D([0.0, 1.0], [1 - 40 / 599, 1 - 40 / 599], transform=fig.transFigure,
                      color='#e8e8e8', lw=1))

fig.savefig('out.png', dpi=100)
